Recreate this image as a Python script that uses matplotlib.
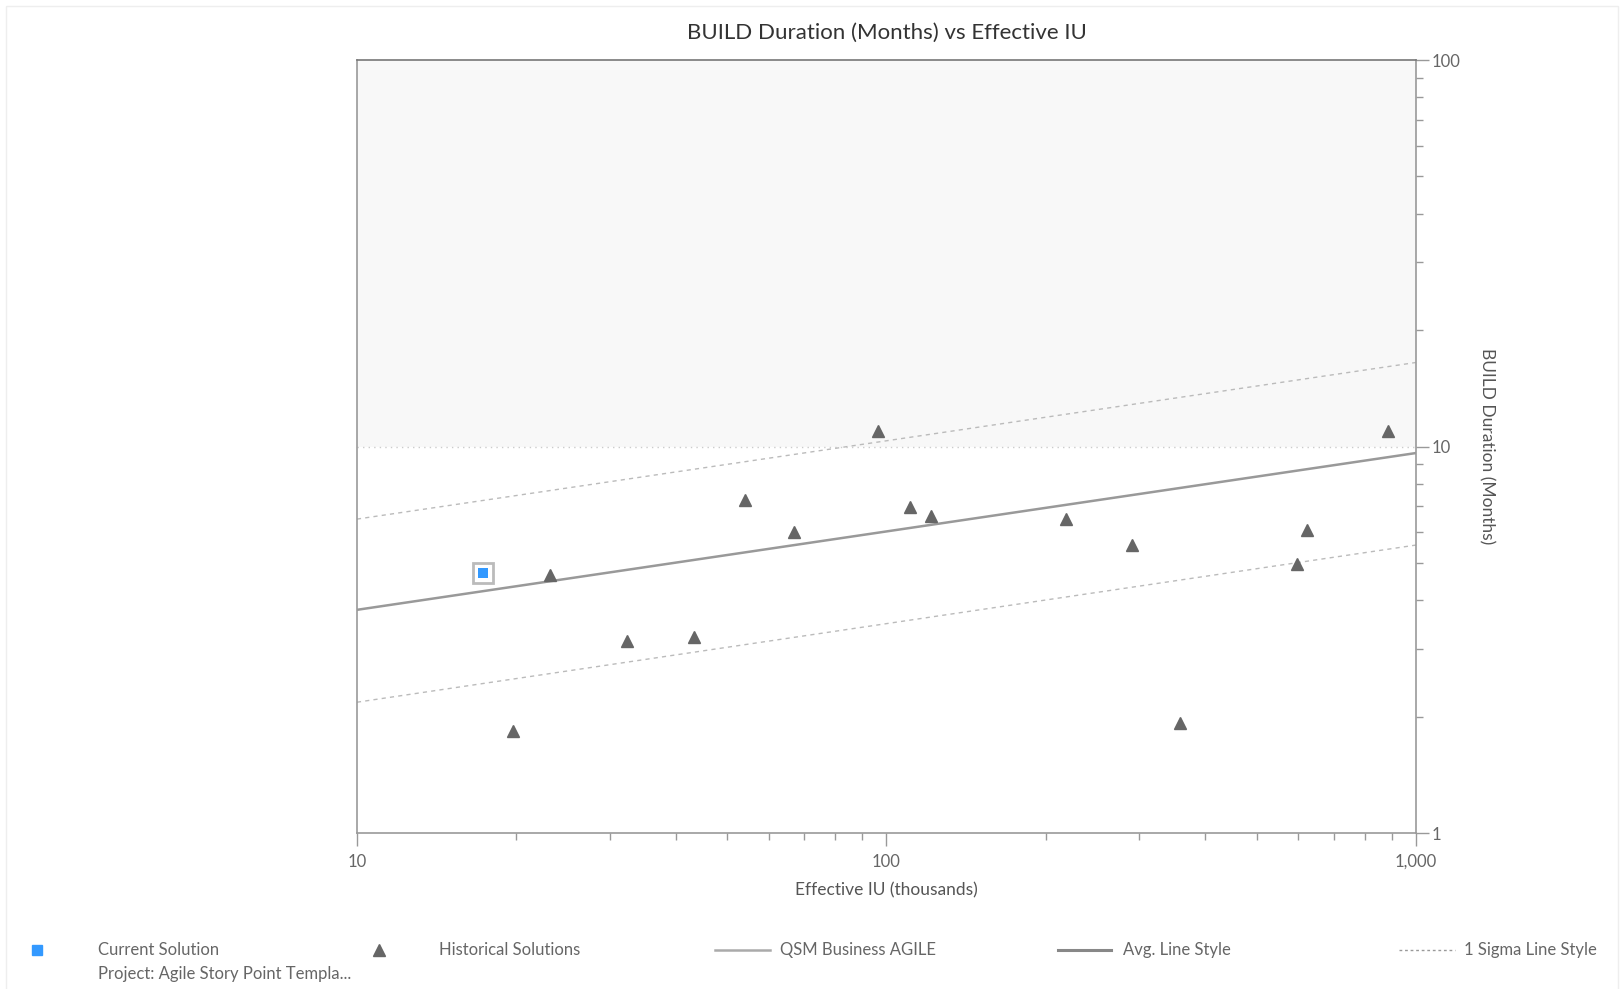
import matplotlib
matplotlib.use("Agg")
import matplotlib.pyplot as plt
from matplotlib.lines import Line2D
from matplotlib.patches import Rectangle
from matplotlib.ticker import FixedLocator, FixedFormatter, LogLocator, NullFormatter

plt.rcParams['font.family'] = ['Lato', 'DejaVu Sans']

# ---- data ----
hist_iu = [19.7, 23.2, 32.3, 43.4, 54.1, 66.9, 96.6, 110.6, 121.6, 218, 291, 358, 597, 622, 887]
hist_dur = [1.84, 4.65, 3.14, 3.22, 7.27, 6.01, 10.97, 6.99, 6.61, 6.49, 5.56, 1.93, 4.98, 6.07, 10.97]
current_iu = [17.3]
current_dur = [4.72]
trend_iu = [10, 1000]
avg_dur = [3.78, 9.62]
upper_dur = [6.49, 16.5]
lower_dur = [2.18, 5.56]
x_ticks = [10, 100, 1000]
x_labels = ["10", "100", "1,000"]
y_ticks = [1, 10, 100]
y_labels = ["1", "10", "100"]
threshold = 10

fig = plt.figure(figsize=(16.21, 9.89), dpi=100)
ax = fig.add_axes([0.2202, 0.1577, 0.6533, 0.7816])
ax.set_xscale('log')
ax.set_yscale('log')
ax.set_xlim(10, 1000)
ax.set_ylim(1, 100)

# shaded region above threshold
ax.axhspan(threshold, 100, color='#f8f8f8', zorder=0, lw=0)
ax.axhline(threshold, color='#cccccc', ls=(0, (1, 3)), lw=1, zorder=1)

# trend lines
ax.plot(trend_iu, avg_dur, color='#999999', lw=1.8, zorder=2)
ax.plot(trend_iu, upper_dur, color='#bbbbbb', lw=1, ls=(0, (3, 3)), zorder=2)
ax.plot(trend_iu, lower_dur, color='#bbbbbb', lw=1, ls=(0, (3, 3)), zorder=2)

# points
ax.plot(hist_iu, hist_dur, ls='none', marker='^', ms=9, color='#666666', zorder=3)
ax.plot(current_iu, current_dur, ls='none', marker='s', ms=14, mfc='white', mec='#bbbbbb', mew=2, zorder=4)
ax.plot(current_iu, current_dur, ls='none', marker='s', ms=6.5, color='#3399ff', mew=0, zorder=5)

# axes styling
for s in ['left', 'bottom', 'right']:
    ax.spines[s].set_color('#999999')
    ax.spines[s].set_linewidth(1.2)
ax.spines['top'].set_color('#777777')
ax.spines['top'].set_linewidth(1.2)

ax.yaxis.tick_right()
ax.yaxis.set_label_position('right')
ax.xaxis.set_major_locator(FixedLocator(x_ticks))
ax.xaxis.set_major_formatter(FixedFormatter(x_labels))
ax.xaxis.set_minor_locator(LogLocator(base=10, subs=range(2, 10)))
ax.xaxis.set_minor_formatter(NullFormatter())
ax.yaxis.set_major_locator(FixedLocator(y_ticks))
ax.yaxis.set_major_formatter(FixedFormatter(y_labels))
ax.yaxis.set_minor_locator(LogLocator(base=10, subs=range(2, 10)))
ax.yaxis.set_minor_formatter(NullFormatter())
ax.tick_params(which='major', length=9, width=1, color='#999999', labelcolor='#666666', labelsize=12, direction='out')
ax.tick_params(which='minor', length=5, width=1, color='#999999', direction='out')
ax.tick_params(axis='y', which='major', pad=2)
ax.tick_params(axis='x', which='major', pad=6)

ax.set_xlabel('Effective IU (thousands)', fontsize=12.5, color='#555555', labelpad=9)
ax.set_ylabel('BUILD Duration (Months)', fontsize=12.5, color='#555555', rotation=-90, labelpad=25)
ax.set_title('BUILD Duration (Months) vs Effective IU', fontsize=16, color='#333333', pad=15)

# figure border
fig.patches.append(Rectangle((0.004, -0.01), 0.994, 1.004, transform=fig.transFigure,
                             fill=False, edgecolor='#eeeeee', lw=1))

# manual legend
ly = 1 - 950 / 989
ly2 = 1 - 974 / 989
W = 1621.0
tc = '#666666'
fs = 12
fig.add_artist(Line2D([37 / W], [ly], marker='s', ms=7, color='#3399ff', ls='none', transform=fig.transFigure))
fig.text(98 / W, ly, 'Current Solution', fontsize=fs, color=tc, va='center')
fig.text(98 / W, ly2, 'Project: Agile Story Point Templa...', fontsize=fs, color=tc, va='center')
fig.add_artist(Line2D([379 / W], [ly], marker='^', ms=9, color='#666666', ls='none', transform=fig.transFigure))
fig.text(439 / W, ly, 'Historical Solutions', fontsize=fs, color=tc, va='center')
fig.add_artist(Line2D([715 / W, 770 / W], [ly, ly], color='#aaaaaa', lw=1.8, transform=fig.transFigure))
fig.text(780 / W, ly, 'QSM Business AGILE', fontsize=fs, color=tc, va='center')
fig.add_artist(Line2D([1058 / W, 1111 / W], [ly, ly], color='#888888', lw=2.2, transform=fig.transFigure))
fig.text(1123 / W, ly, 'Avg. Line Style', fontsize=fs, color=tc, va='center')
fig.add_artist(Line2D([1399 / W, 1455 / W], [ly, ly], color='#999999', lw=1, ls=(0, (2, 2)), transform=fig.transFigure))
fig.text(1464 / W, ly, '1 Sigma Line Style', fontsize=fs, color=tc, va='center')

fig.savefig('out.png', dpi=100)
